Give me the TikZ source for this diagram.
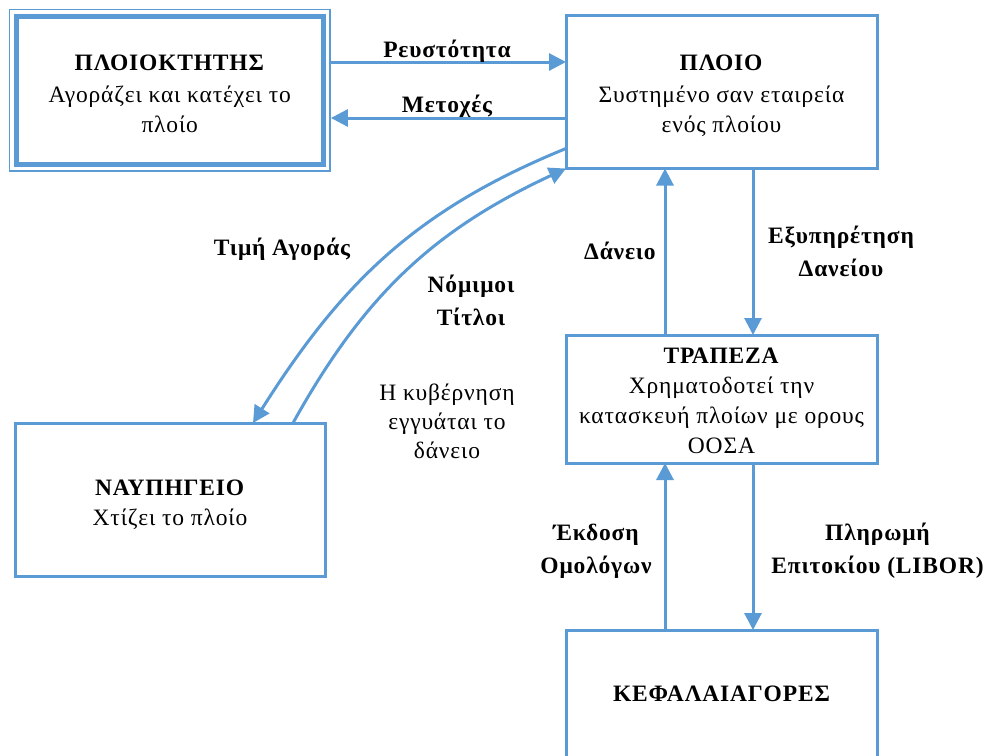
\documentclass[tikz,border=0pt]{standalone}
\usepackage{fontspec}
\setmainfont{Liberation Serif}[LetterSpace=3.5]
\usetikzlibrary{arrows.meta,fit,calc}
\definecolor{lineblue}{HTML}{5B9BD5}
\begin{document}
\begin{tikzpicture}[x=1pt,y=-1pt,
  box/.style={draw=lineblue, line width=3pt, outer sep=0pt, inner sep=0pt},
  boxtext/.style={align=center, inner sep=0pt, font=\fontsize{23.5}{30}\selectfont},
  arr/.style={draw=lineblue, line width=3pt, -{Triangle[length=17pt,width=17pt]}},
  lbl/.style={font=\fontsize{23.5}{33}\selectfont\bfseries, align=center, inner sep=0pt},
  note/.style={font=\fontsize{23.5}{29}\selectfont, align=center, inner sep=0pt}]
\useasboundingbox (0,0) rectangle (985,755);
\clip (0,0) rectangle (985,755);

% boxes
\node[box, line width=5pt, minimum width=307.5pt, minimum height=148.5pt] (own) at (169.75,90.25) {};
\node[draw=lineblue, line width=1.8pt, fit=(own), inner sep=6.5pt] (ownframe) {};
\node[box, minimum width=311pt, minimum height=153.5pt] (ship) at (721.5,91.75) {};
\node[box, minimum width=311pt, minimum height=128pt] (bank) at (721.5,399) {};
\node[box, minimum width=310pt, minimum height=153pt] (yard) at (170,499.5) {};
\node[box, minimum width=311pt, minimum height=130pt] (kef) at (721.5,695) {};

% box texts
\node[boxtext] (owntext) at ([yshift=-3.5pt]own.center)
  {\textbf{ΠΛΟΙΟΚΤΗΤΗΣ}\\[2pt]Αγοράζει και κατέχει το\\πλοίο};
\node[boxtext] (shiptext) at ([yshift=-4pt]ship.center)
  {\textbf{ΠΛΟΙΟ}\\[2pt]Συστημένο σαν εταιρεία\\ενός πλοίου};
\node[boxtext] (banktext) at ([yshift=-2pt]bank.center)
  {\textbf{ΤΡΑΠΕΖΑ}\\Χρηματοδοτεί την\\κατασκευή πλοίων με ορους\\ΟΟΣΑ};
\node[boxtext] (yardtext) at ([yshift=-5pt]yard.center)
  {\textbf{ΝΑΥΠΗΓΕΙΟ}\\Χτίζει το πλοίο};
\node[boxtext, font=\fontsize{23.5}{30}\selectfont\bfseries] (keftext) at ([yshift=1pt]kef.center)
  {ΚΕΦΑΛΑΙΑΓΟΡΕΣ};

% horizontal flows
\coordinate (r1) at ([yshift=28.25pt]ownframe.east);
\draw[arr] (r1) -- (r1 -| ship.west);
\coordinate (m1) at ([yshift=-26.25pt]ship.west);
\draw[arr] (m1) -- (m1 -| ownframe.east);

% vertical flows
\coordinate (d1) at ([xshift=-56.5pt]bank.north);
\draw[arr] (d1) -- (d1 |- ship.south);
\coordinate (e1) at ([xshift=31.5pt]ship.south);
\draw[arr] (e1) -- (e1 |- bank.north);
\coordinate (o1) at ([xshift=-56.5pt]kef.north);
\draw[arr] (o1) -- (o1 |- bank.south);
\coordinate (p1) at ([xshift=31.5pt]bank.south);
\draw[arr] (p1) -- (p1 |- kef.north);

% curved flows between ship and shipyard
\coordinate (t1) at ([yshift=20pt]ship.south west);
\coordinate (t2) at ([xshift=238pt]yard.north west);
\draw[arr] (t1) .. controls (414.5,210.3) and (341,284) .. (t2);
\coordinate (n1) at ([xshift=278pt]yard.north west);
\draw[arr] (n1) .. controls (363.9,295.2) and (433.6,230.2) .. (ship.south west);

% labels
\node[lbl] (lr) at (447,51) {Ρευστότητα};
\node[lbl] (lm) at (447,106) {Μετοχές};
\node[lbl] (lt) at (282,249) {Τιμή Αγοράς};
\node[lbl] (ln) at (471,300) {Νόμιμοι\\Τίτλοι};
\node[note] (gov) at (447,421) {Η κυβέρνηση\\εγγυάται το\\δάνειο};
\node[lbl] (ld) at (620,251) {Δάνειο};
\node[lbl] (lx) at (841,251.5) {Εξυπηρέτηση\\Δανείου};
\node[lbl] (lb) at (596,551) {Έκδοση\\Ομολόγων};
\node[lbl] (lp) at (877.5,551) {Πληρωμή\\Επιτοκίου (LIBOR)};
\end{tikzpicture}
\end{document}
